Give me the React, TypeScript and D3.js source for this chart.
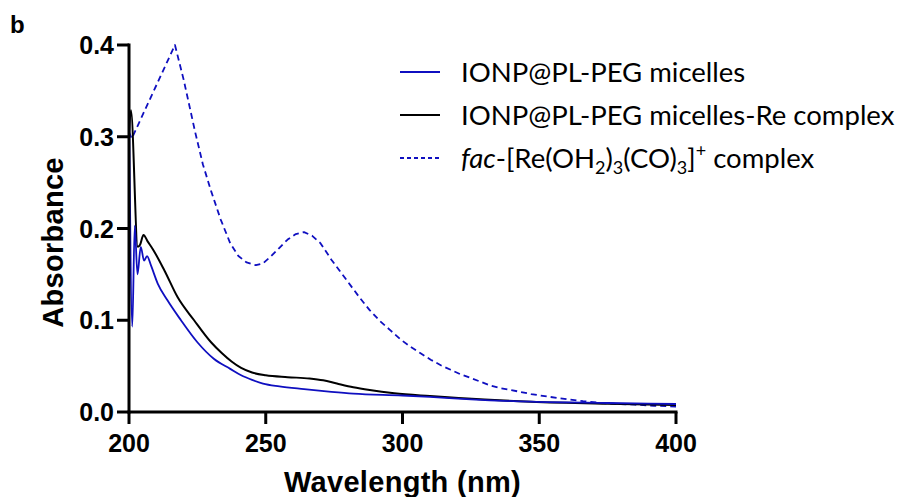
import React from 'react';
import * as d3 from 'd3';

const W = 907, H = 497;
const MARGIN = { top: 45, right: 231, bottom: 85, left: 129 };
const INNER_W = W - MARGIN.left - MARGIN.right;
const INNER_H = H - MARGIN.top - MARGIN.bottom;

const BLUE = '#0f0fc0';

// wavelength (nm), absorbance
const micelles: [number, number][] = [
  [200, 0.341], [201.2, 0.093], [202.1, 0.203], [203.1, 0.150], [204.3, 0.180],
  [205.5, 0.165], [206.6, 0.170], [208, 0.160], [210.5, 0.140], [214, 0.122],
  [219, 0.100], [225, 0.076], [231, 0.058], [237, 0.047], [241, 0.040],
  [245, 0.035], [249, 0.031], [255, 0.028], [264, 0.025], [274, 0.022],
  [282, 0.020], [300, 0.018], [310, 0.0165], [325, 0.0138], [347, 0.0112],
  [375, 0.0098], [400, 0.0087],
];

const micellesRe: [number, number][] = [
  [200, 0.300], [200.7, 0.329], [203.2, 0.180], [204, 0.182], [205.3, 0.193],
  [206.8, 0.186], [208.6, 0.178], [213, 0.154], [217.8, 0.125], [223.8, 0.100],
  [230, 0.076], [234, 0.064], [237.5, 0.055], [241, 0.048], [245, 0.043],
  [250, 0.040], [258, 0.038], [266, 0.0365], [271, 0.0345], [276, 0.031],
  [282, 0.027], [288, 0.024], [297, 0.0205], [310, 0.0174], [330, 0.0135],
  [347, 0.0112], [375, 0.009], [400, 0.0076],
];

const facComplex: [number, number][] = [
  [200, 0.305], [201, 0.298], [216.8, 0.400], [220, 0.362], [224.2, 0.305],
  [227, 0.270], [230, 0.241], [233.5, 0.210], [237, 0.184], [240, 0.170],
  [243, 0.163], [246.4, 0.160], [249, 0.162], [252, 0.170], [255, 0.179],
  [258, 0.188], [261, 0.194], [264, 0.196], [267, 0.192], [270, 0.184],
  [274, 0.166], [277.5, 0.152], [281, 0.138], [284.5, 0.124], [288, 0.111],
  [291.8, 0.099], [295.6, 0.089], [299.3, 0.079], [303, 0.071], [306.6, 0.064],
  [310.3, 0.057], [314, 0.051], [317.6, 0.046], [321.3, 0.041], [325, 0.037],
  [328.5, 0.033], [332, 0.029], [335.8, 0.026], [339.6, 0.024], [343.3, 0.0218],
  [347, 0.0196], [353, 0.0168], [360, 0.014], [366, 0.0118], [372, 0.010],
  [378, 0.0089], [385, 0.008], [392, 0.0068], [400, 0.006],
];

const xTicks = [200, 250, 300, 350, 400];
const yTicks = [0, 0.1, 0.2, 0.3, 0.4];

const legendItems = [
  { key: 'mic', color: BLUE, dash: undefined as string | undefined },
  { key: 're', color: '#000', dash: undefined as string | undefined },
  { key: 'fac', color: BLUE, dash: '4,3' },
];

export default function App() {
  const x = d3.scaleLinear().domain([200, 400]).range([0, INNER_W]);
  const y = d3.scaleLinear().domain([0, 0.4]).range([INNER_H, 0]);
  const smooth = d3.line<[number, number]>()
    .x(d => x(d[0]))
    .y(d => y(d[1]))
    .curve(d3.curveMonotoneX);
  // the complex spectrum has a sharp peak at ~217 nm, so it is drawn point to point
  const straight = d3.line<[number, number]>()
    .x(d => x(d[0]))
    .y(d => y(d[1]));

  const bold = { fontFamily: '"Liberation Sans", Arial, sans-serif', fontWeight: 700 };
  const legendFont = { fontFamily: 'Lato, "Open Sans", sans-serif', fontSize: 27.5 };

  return (
    <svg width={W} height={H} style={{ position: 'absolute', left: 0, top: 0, background: '#fff' }}>
      <text x={10} y={33} style={{ ...bold, fontSize: 24 }}>b</text>
      <g transform={`translate(${MARGIN.left},${MARGIN.top})`}>
        {/* data */}
        <path d={straight(facComplex) || ''} fill="none" stroke={BLUE} strokeWidth={1.8}
          strokeDasharray="6,4" strokeLinejoin="round" />
        <path d={smooth(micellesRe) || ''} fill="none" stroke="#000" strokeWidth={2} />
        <path d={smooth(micelles) || ''} fill="none" stroke={BLUE} strokeWidth={1.8} />

        {/* y axis */}
        <line x1={0} x2={0} y1={-1.5} y2={INNER_H + 1.5} stroke="#000" strokeWidth={3} />
        {yTicks.map(t => (
          <g key={t} transform={`translate(0,${y(t)})`}>
            <line x1={-12} x2={0} stroke="#000" strokeWidth={3} />
            <text x={-15} dy="0.36em" textAnchor="end" style={{ ...bold, fontSize: 25 }}>{t.toFixed(1)}</text>
          </g>
        ))}
        {/* x axis */}
        <line x1={-1.5} x2={INNER_W + 1.5} y1={INNER_H} y2={INNER_H} stroke="#000" strokeWidth={3} />
        {xTicks.map(t => (
          <g key={t} transform={`translate(${x(t)},${INNER_H})`}>
            <line y1={0} y2={12} stroke="#000" strokeWidth={3} />
            <text y={40} textAnchor="middle" style={{ ...bold, fontSize: 25 }}>{t}</text>
          </g>
        ))}
        <text x={INNER_W / 2} y={INNER_H + 80} textAnchor="middle" style={{ ...bold, fontSize: 29, letterSpacing: 0.3 }}>
          Wavelength (nm)
        </text>
        <text transform={`translate(${-66},${INNER_H / 2 + 14}) rotate(-90)`} textAnchor="middle" style={{ ...bold, fontSize: 29, letterSpacing: 0.3 }}>
          Absorbance
        </text>
      </g>

      {/* legend */}
      {legendItems.map((it, i) => (
        <line key={it.key} x1={400} x2={440} y1={72 + i * 43} y2={72 + i * 43}
          stroke={it.color} strokeWidth={1.8} strokeDasharray={it.dash} />
      ))}
      <text x={461} y={72 + 10} style={legendFont}>IONP@PL-PEG micelles</text>
      <text x={461} y={115 + 10} style={legendFont}>IONP@PL-PEG micelles-Re complex</text>
      <text x={461} y={158 + 10} style={legendFont}>
        <tspan fontStyle="italic">fac</tspan>
        <tspan>-[Re(OH</tspan>
        <tspan fontSize={18} dy={6}>2</tspan>
        <tspan dy={-6}>)</tspan>
        <tspan fontSize={18} dy={6}>3</tspan>
        <tspan dy={-6}>(CO)</tspan>
        <tspan fontSize={18} dy={6}>3</tspan>
        <tspan dy={-6}>]</tspan>
        <tspan fontSize={18} dy={-11}>+</tspan>
        <tspan dy={11}> complex</tspan>
      </text>
    </svg>
  );
}
